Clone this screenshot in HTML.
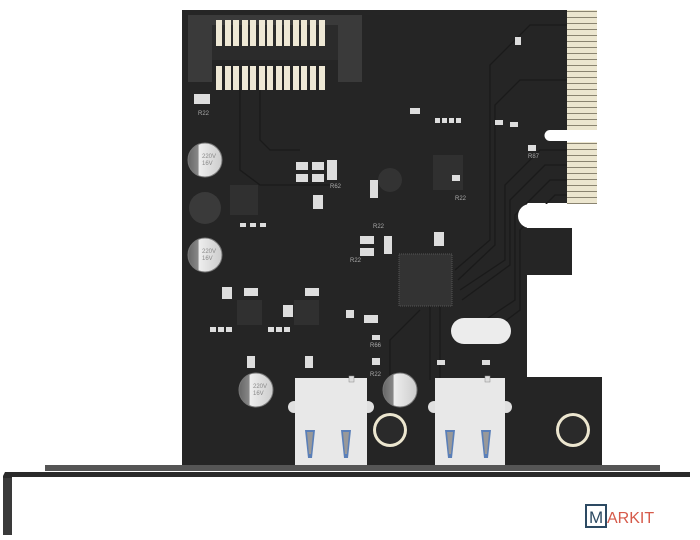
<!DOCTYPE html>
<html><head><style>
html,body{margin:0;padding:0;background:#fff;width:700px;height:540px;overflow:hidden}
svg{display:block}
text{font-family:"Liberation Sans",sans-serif}
</style></head><body>
<svg width="700" height="540" viewBox="0 0 700 540">
<defs>
<linearGradient id="cap" x1="0" x2="1"><stop offset="0" stop-color="#666"/><stop offset="0.3" stop-color="#888"/><stop offset="0.32" stop-color="#eee"/><stop offset="1" stop-color="#ccc"/></linearGradient>
<pattern id="fing" width="34" height="6" patternUnits="userSpaceOnUse"><rect width="34" height="6" fill="#ece6cf"/><rect y="5" width="34" height="1" fill="#8a8470"/></pattern>
</defs>
<!-- board -->
<path d="M182 10 H567 V130 H597 V140 H567 V203 H527 V228 H572 V275 H527 V377 H602 V466 H182 Z" fill="#252525"/>
<rect x="567" y="10" width="30" height="120" fill="url(#fing)"/>
<rect x="567" y="142" width="30" height="62" fill="url(#fing)"/>
<!-- traces -->
<g stroke="#1a1a1a" stroke-width="1.3" fill="none">
<path d="M567 25 H530 L490 65 V240 L455 270"/><path d="M567 80 H520 L495 105 V245 L458 280"/>
<path d="M567 150 H540 L505 185 V260 L460 290"/><path d="M567 165 H545 L510 200 V265 L462 300"/>
<path d="M567 180 H550 L515 215 V300 L470 330"/><path d="M567 195 H555 L520 230 V310 L480 340"/>
<path d="M240 90 V170 L260 185 H330"/><path d="M260 90 V140 L270 150 H300"/>
<path d="M430 300 V380"/><path d="M440 300 V380"/><path d="M420 310 L390 340 V380"/>
</g>
<path d="M550 130 H600 V141 H550 Z" fill="#fff"/>
<circle cx="550" cy="135.5" r="5.5" fill="#fff"/>
<circle cx="530" cy="216" r="12" fill="#fff"/>
<rect x="530" y="204" width="45" height="24" fill="#fff"/>
<!-- SATA connector -->
<rect x="188" y="15" width="172" height="55" fill="#3a3a3a"/>
<rect x="205" y="25" width="140" height="40" fill="#2b2b2b"/>
<rect x="205" y="60" width="140" height="22" fill="#252525"/>
<rect x="188" y="15" width="24" height="67" fill="#3a3a3a"/><rect x="338" y="15" width="24" height="67" fill="#3a3a3a"/>
<g fill="#eee8d5">
<rect x="216" y="20" width="6" height="26"/><rect x="225" y="20" width="6" height="26"/><rect x="233" y="20" width="6" height="26"/><rect x="242" y="20" width="6" height="26"/><rect x="250" y="20" width="6" height="26"/><rect x="259" y="20" width="6" height="26"/><rect x="267" y="20" width="6" height="26"/><rect x="276" y="20" width="6" height="26"/><rect x="284" y="20" width="6" height="26"/><rect x="293" y="20" width="6" height="26"/><rect x="301" y="20" width="6" height="26"/><rect x="310" y="20" width="6" height="26"/><rect x="319" y="20" width="6" height="26"/>
<rect x="216" y="66" width="6" height="24"/><rect x="225" y="66" width="6" height="24"/><rect x="233" y="66" width="6" height="24"/><rect x="242" y="66" width="6" height="24"/><rect x="250" y="66" width="6" height="24"/><rect x="259" y="66" width="6" height="24"/><rect x="267" y="66" width="6" height="24"/><rect x="276" y="66" width="6" height="24"/><rect x="284" y="66" width="6" height="24"/><rect x="293" y="66" width="6" height="24"/><rect x="301" y="66" width="6" height="24"/><rect x="310" y="66" width="6" height="24"/><rect x="319" y="66" width="6" height="24"/>
</g>
<!-- dark round pads -->
<circle cx="205" cy="208" r="16" fill="#3a3a3a"/>
<circle cx="390" cy="180" r="12" fill="#333"/>
<!-- capacitors -->
<g stroke="#777" stroke-width="1">
<circle cx="205" cy="160" r="17" fill="url(#cap)"/><circle cx="205" cy="255" r="17" fill="url(#cap)"/>
<circle cx="256" cy="390" r="17" fill="url(#cap)"/><circle cx="400" cy="390" r="17" fill="url(#cap)"/>
</g>
<g font-size="6" fill="#888"><text x="202" y="158">220V</text><text x="202" y="165">16V</text><text x="202" y="253">220V</text><text x="202" y="260">16V</text><text x="253" y="388">220V</text><text x="253" y="395">16V</text></g>
<!-- chips -->
<rect x="399" y="254" width="53" height="52" fill="#333" stroke="#555" stroke-dasharray="1 1"/>
<rect x="433" y="155" width="30" height="35" fill="#303030"/>
<rect x="230" y="185" width="28" height="30" fill="#303030"/>
<rect x="237" y="300" width="25" height="25" fill="#303030"/><rect x="294" y="300" width="25" height="25" fill="#303030"/>
<!-- small components -->
<g fill="#ddd">
<rect x="296" y="162" width="12" height="8"/><rect x="312" y="162" width="12" height="8"/><rect x="296" y="174" width="12" height="8"/><rect x="312" y="174" width="12" height="8"/>
<rect x="327" y="160" width="10" height="20"/><rect x="313" y="195" width="10" height="14"/><rect x="370" y="180" width="8" height="18"/>
<rect x="360" y="236" width="14" height="8"/><rect x="360" y="248" width="14" height="8"/><rect x="384" y="236" width="8" height="18"/><rect x="434" y="232" width="10" height="14"/>
<rect x="222" y="287" width="10" height="12"/><rect x="244" y="288" width="14" height="8"/><rect x="283" y="305" width="10" height="12"/><rect x="305" y="288" width="14" height="8"/>
<rect x="346" y="310" width="8" height="8"/><rect x="364" y="315" width="14" height="8"/><rect x="372" y="335" width="8" height="5"/><rect x="372" y="358" width="8" height="7"/>
<rect x="247" y="356" width="8" height="12"/><rect x="305" y="356" width="8" height="12"/><rect x="194" y="94" width="16" height="10"/>
<rect x="240" y="223" width="6" height="4"/><rect x="250" y="223" width="6" height="4"/><rect x="260" y="223" width="6" height="4"/>
<rect x="210" y="327" width="6" height="5"/><rect x="218" y="327" width="6" height="5"/><rect x="226" y="327" width="6" height="5"/><rect x="268" y="327" width="6" height="5"/><rect x="276" y="327" width="6" height="5"/><rect x="284" y="327" width="6" height="5"/>
<rect x="410" y="108" width="10" height="6"/><rect x="435" y="118" width="5" height="5"/><rect x="442" y="118" width="5" height="5"/><rect x="449" y="118" width="5" height="5"/><rect x="456" y="118" width="5" height="5"/>
<rect x="495" y="120" width="8" height="5"/><rect x="510" y="122" width="8" height="5"/><rect x="528" y="145" width="8" height="6"/><rect x="515" y="37" width="6" height="8"/>
<rect x="437" y="360" width="8" height="5"/><rect x="482" y="360" width="8" height="5"/><rect x="452" y="175" width="8" height="6"/>
</g>
<g font-size="6" fill="#aaa"><text x="198" y="115">R22</text><text x="330" y="188">R62</text><text x="350" y="262">R22</text><text x="455" y="200">R22</text><text x="528" y="158">R87</text><text x="370" y="376">R22</text><text x="370" y="347">R66</text><text x="373" y="228">R22</text></g>
<!-- crystal -->
<rect x="451" y="318" width="60" height="26" rx="13" fill="#ececec"/>
<!-- side pads near ports -->
<g fill="#e0e0e0"><circle cx="294" cy="407" r="6"/><circle cx="368" cy="407" r="6"/><circle cx="434" cy="407" r="6"/><circle cx="506" cy="407" r="6"/></g>
<!-- USB ports -->
<g>
<rect x="295" y="378" width="72" height="88" fill="#e8e8e8"/><rect x="349" y="376" width="5" height="6" fill="#ddd" stroke="#888" stroke-width="0.5"/>
<rect x="435" y="378" width="70" height="88" fill="#e8e8e8"/><rect x="485" y="376" width="5" height="6" fill="#ddd" stroke="#888" stroke-width="0.5"/>
<g fill="#5a7fb8"><path d="M305 430 h10 l-3 28 h-4z"/><path d="M341 430 h10 l-3 28 h-4z"/><path d="M445 430 h10 l-3 28 h-4z"/><path d="M481 430 h10 l-3 28 h-4z"/></g>
<g fill="#999"><path d="M307 432 h6 l-2 22 h-2z"/><path d="M343 432 h6 l-2 22 h-2z"/><path d="M447 432 h6 l-2 22 h-2z"/><path d="M483 432 h6 l-2 22 h-2z"/></g>
</g>
<!-- screw holes -->
<circle cx="390" cy="430" r="17" fill="#ece6cf"/><circle cx="390" cy="430" r="14" fill="#2a2a2a"/>
<circle cx="573" cy="430" r="17" fill="#ece6cf"/><circle cx="573" cy="430" r="14" fill="#2a2a2a"/>
<!-- bracket -->
<rect x="45" y="465" width="615" height="6" fill="#555"/>
<path d="M5 472 H690 V477 H12 V535 H3 V476 Z" fill="#2a2a2a"/>
<rect x="3" y="478" width="9" height="57" fill="#3a3a3a"/>
<!-- logo -->
<rect x="586" y="505" width="20" height="22" fill="#fff" stroke="#2d4a63" stroke-width="2"/>
<text x="589" y="523" font-size="17" fill="#2d4a63">M</text>
<text x="607" y="523" font-size="16" fill="#d65a4a">ARKIT</text>
</svg>
</body></html>
